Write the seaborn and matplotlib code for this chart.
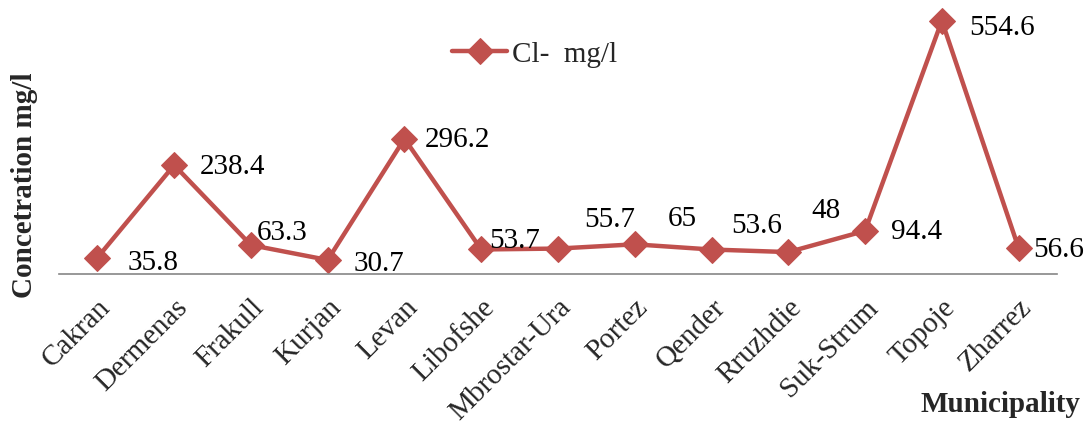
import pandas as pd
import seaborn as sns
import matplotlib.pyplot as plt

# data
municipalities = ["Cakran", "Dermenas", "Frakull", "Kurjan", "Levan", "Libofshe",
                  "Mbrostar-Ura", "Portez", "Qender", "Rruzhdie", "Suk-Strum",
                  "Topoje", "Zharrez"]
chloride = [35.8, 238.4, 63.3, 30.7, 296.2, 53.7, 55.7, 65, 53.6, 48, 94.4, 554.6, 56.6]
value_labels = ["35.8", "238.4", "63.3", "30.7", "296.2", "53.7", "55.7", "65",
                "53.6", "48", "94.4", "554.6", "56.6"]

# where each value label sits relative to its point (pixels)
label_offsets = [(30, -4), (26, -1), (6, 13), (26, -3), (20, 0), (8, 9), (26, 30),
                 (33, 26), (20, 25), (23, 42), (26, 0), (27, -6), (15, -1)]

df = pd.DataFrame({"Municipality": municipalities, "Cl": chloride})

sns.set_style("white")
plt.rcParams['font.family'] = ['Liberation Serif', 'DejaVu Serif']

color = "#C0504D"
fs = 21

fig = plt.figure(figsize=(10.84, 4.27), dpi=100)
ax = fig.add_axes([59 / 1084, 152 / 427, 998 / 1084, 274 / 427])

sns.lineplot(data=df, x="Municipality", y="Cl", sort=False, color=color,
             linewidth=3.2, marker="D", markersize=13, markeredgecolor=color,
             label="Cl-  mg/l", ax=ax)

for i, (txt, off) in enumerate(zip(value_labels, label_offsets)):
    ax.annotate(txt, (i, chloride[i]), xytext=off, textcoords="offset pixels",
                ha="left", va="center", fontsize=fs, color="black")

ax.set_xlim(-0.5, len(municipalities) - 0.5)
ax.set_ylim(0, 600)
ax.set_yticks([])
for s in ["top", "right", "left"]:
    ax.spines[s].set_visible(False)
ax.spines["bottom"].set_color("#868686")
ax.spines["bottom"].set_linewidth(1.2)
ax.tick_params(axis="x", length=0, pad=14, labelsize=fs)
plt.setp(ax.get_xticklabels(), rotation=45, ha="right", va="top", rotation_mode="anchor")

ax.set_xlabel("")
ax.set_ylabel("")
fig.text(25 / 1084, 1 - 185 / 427, "Concetration mg/l", rotation=90, ha="center",
         va="center", fontsize=fs, fontweight="bold")
fig.text(1080 / 1084, 1 - 405 / 427, "Municipality", ha="right", va="center",
         fontsize=fs, fontweight="bold")

ax.legend(loc="center left", bbox_to_anchor=(452 / 1084, 1 - 55 / 427),
          bbox_transform=fig.transFigure, frameon=False, fontsize=fs,
          borderpad=0, borderaxespad=0, handlelength=1.9, handletextpad=0.15)

fig.savefig("out.png", dpi=100)
